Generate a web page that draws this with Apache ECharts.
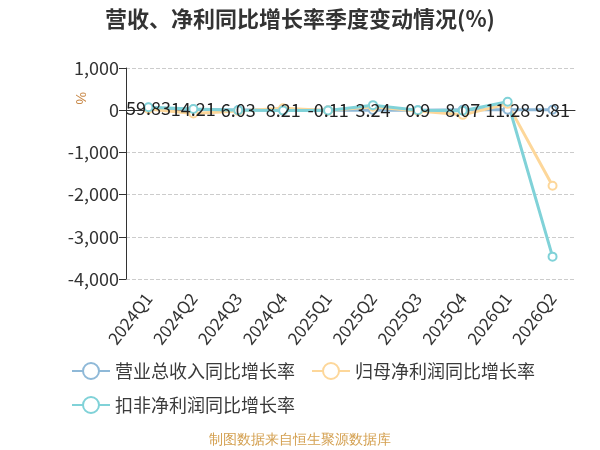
<!DOCTYPE html>
<html>
<head>
<meta charset="utf-8">
<script src="https://cdn.jsdelivr.net/npm/echarts@6/dist/echarts.min.js"></script>
<style>
html, body { margin: 0; padding: 0; background: #fff; }
#chart { width: 600px; height: 450px; }
</style>
</head>
<body>
<div id="chart"></div>
<script>
var quarters = ['2024Q1', '2024Q2', '2024Q3', '2024Q4', '2025Q1', '2025Q2', '2025Q3', '2025Q4', '2026Q1', '2026Q2'];
var revenueGrowth = [59.83, 14.21, 6.03, 8.21, -0.11, 3.24, 0.9, 8.07, 11.28, 9.81];
var netProfitGrowth = [30, -80, -20, 45, -10, 80, -20, -110, 150, -1790];
var deductedProfitGrowth = [70, 30, 0, -10, -5, 120, 0, -15, 200, -3470];
var yTicks = { min: -4000, max: 1000, interval: 1000 };

var chart = echarts.init(document.getElementById('chart'));

function lineSeries(name, data, color, showLabel) {
	return {
		name: name,
		type: 'line',
		data: data,
		symbol: 'emptyCircle',
		symbolSize: 8,
		lineStyle: { color: color, width: 3 },
		itemStyle: { color: color, borderWidth: 2 },
		label: {
			show: showLabel,
			position: 'inside',
			color: '#222',
			fontSize: 18
		}
	};
}

var option = {
	textStyle: { fontFamily: 'Noto Sans CJK SC' },
	title: {
		text: '营收、净利同比增长率季度变动情况(%)',
		left: 'center',
		top: 3,
		textStyle: { fontSize: 22, fontWeight: 'bold', color: '#333' }
	},
	grid: { left: 126, right: 25, top: 68, bottom: 171 },
	legend: {
		left: 66,
		top: 357,
		width: 500,
		itemWidth: 38,
		itemHeight: 20,
		itemGap: 16,
		textStyle: { fontSize: 18, color: '#3a3a3a' },
		data: ['营业总收入同比增长率', '归母净利润同比增长率', '扣非净利润同比增长率']
	},
	xAxis: {
		type: 'category',
		data: quarters,
		axisLine: { lineStyle: { color: '#333' } },
		axisTick: { length: 6, lineStyle: { color: '#333' } },
		axisLabel: { rotate: 52, fontSize: 17, color: '#333', margin: 16 }
	},
	yAxis: {
		type: 'value',
		min: yTicks.min,
		max: yTicks.max,
		interval: yTicks.interval,
		axisLine: { show: true, lineStyle: { color: '#333' } },
		axisTick: { show: true, length: 7, lineStyle: { color: '#333' } },
		axisLabel: { fontSize: 18, color: '#333', margin: 7 },
		splitLine: { lineStyle: { type: 'dashed', color: '#ccc' } }
	},
	graphic: [{
		type: 'text',
		left: 73,
		top: 92,
		rotation: -Math.PI / 2,
		style: { text: '%', fontSize: 14, fill: '#c98a4a' }
	}, {
		type: 'text',
		left: 'center',
		top: 433,
		style: { text: '制图数据来自恒生聚源数据库', fontSize: 13.5, fill: '#d4a050' }
	}],
	series: [
		lineSeries('营业总收入同比增长率', revenueGrowth, '#8fb9d8', true),
		lineSeries('归母净利润同比增长率', netProfitGrowth, '#fdd79a', false),
		lineSeries('扣非净利润同比增长率', deductedProfitGrowth, '#80d2d8', false)
	]
};

chart.setOption(option);
window.onresize = chart.resize;
</script>
</body>
</html>
